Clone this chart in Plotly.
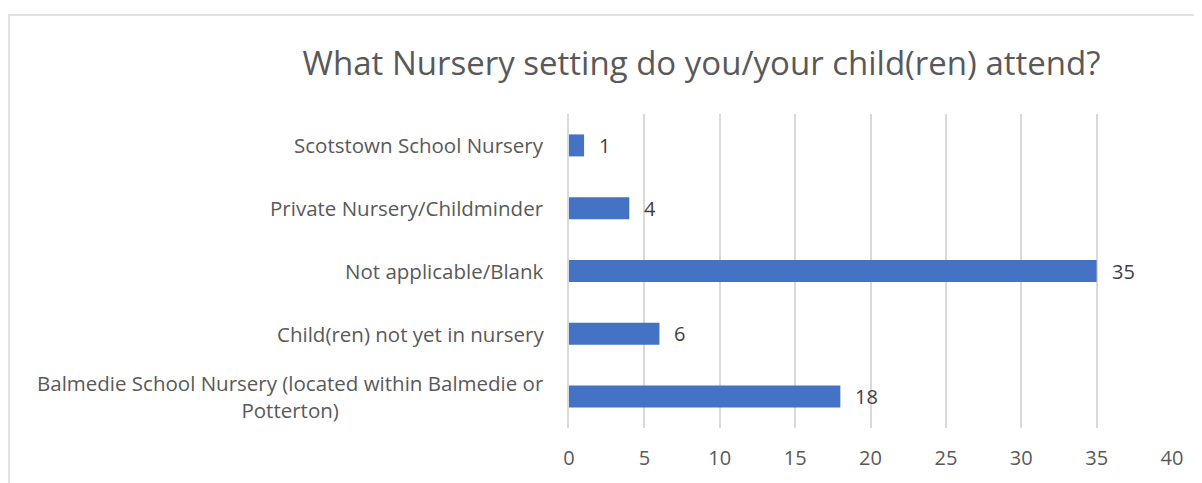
import plotly.graph_objects as go

categories = [
    "Balmedie School Nursery (located within Balmedie or<br>Potterton)",
    "Child(ren) not yet in nursery",
    "Not applicable/Blank",
    "Private Nursery/Childminder",
    "Scotstown School Nursery",
]
values = [18, 6, 35, 4, 1]
x_ticks = [0, 5, 10, 15, 20, 25, 30, 35, 40]

FONT = "Open Sans"
OFF = 8  # page body margin
W, H = 1202, 483
L, R, T, B = 569 - OFF, 30 + OFF, 114 - OFF, 55 + OFF
pw, ph = W - L - R, H - T - B

fig = go.Figure()
fig.add_trace(go.Bar(
    y=categories, x=values, orientation="h",
    marker=dict(color="#4472C4", line=dict(width=0)),
    width=0.35,
))

for c, v in zip(categories, values):
    fig.add_annotation(
        x=v, xref="x", xanchor="left", xshift=13,
        y=c, yref="y", yanchor="middle",
        text=str(v), showarrow=False,
        font=dict(family=FONT, size=20, color="#404040"),
    )

for c in categories:
    fig.add_annotation(
        x=-23 / pw, xref="paper", xanchor="right",
        y=c, yref="y", yanchor="middle",
        text=c, showarrow=False, align="center",
        font=dict(family=FONT, size=20.5, color="#595959"),
    )

# chart border
fig.add_shape(type="rect", xref="paper", yref="paper",
              x0=(9 - OFF - L) / pw, x1=1.2, y0=-0.3, y1=(H - B - (15 - OFF)) / ph,
              line=dict(color="#d9d9d9", width=1.5), layer="below")

fig.update_layout(
    width=W, height=H,
    margin=dict(l=L, r=R, t=T, b=B),
    paper_bgcolor="white", plot_bgcolor="white",
    showlegend=False,
    title=dict(text="What Nursery setting do you/your child(ren) attend?",
               x=(701.5 - OFF) / W, xanchor="center", y=1 - (63 - OFF) / H, yanchor="middle",
               font=dict(family=FONT, size=33, color="#595959")),
    xaxis=dict(range=[0, 40], tickvals=x_ticks, showgrid=True,
               gridcolor="#d9d9d9", gridwidth=1.5, zeroline=False,
               showline=False, ticks="", ticklabelstandoff=16,
               tickfont=dict(family=FONT, size=20, color="#595959")),
    yaxis=dict(showticklabels=False, showline=True, linecolor="#d9d9d9",
               linewidth=1.5, ticks="", showgrid=False),
)

fig.write_html("out.html")
